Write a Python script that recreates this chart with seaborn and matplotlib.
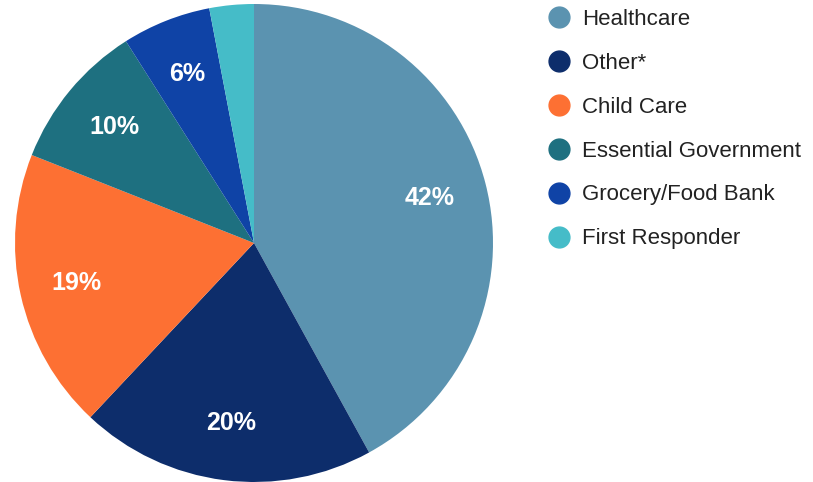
import matplotlib
matplotlib.use("Agg")
import matplotlib.pyplot as plt
import seaborn as sns
from matplotlib.lines import Line2D

categories = ["Healthcare", "Other*", "Child Care", "Essential Government",
              "Grocery/Food Bank", "First Responder"]
shares = [42, 20, 19, 10, 6, 3]
colors = ["#5b93b0", "#0d2d6b", "#fd7033", "#1e7080", "#0f43a6", "#45bcc8"]

sns.set_theme(style="white")
plt.rcParams["font.family"] = ["Liberation Sans", "DejaVu Sans"]

fig = plt.figure(figsize=(8.13, 4.82), dpi=100)
ax = fig.add_axes([15 / 813, 0.0, 478 / 813, 478 / 482])

wedges, texts, autotexts = ax.pie(
    shares, colors=colors, startangle=90, counterclock=False,
    autopct=lambda p: f"{p:.0f}%" if p >= 5 else "",
    pctdistance=0.76, radius=1.0,
    wedgeprops=dict(linewidth=0),
    textprops=dict(color="white", fontsize=18, fontweight="bold"),
)
ax.set_xlim(-1, 1)
ax.set_ylim(-1, 1)
ax.set_aspect("equal")

handles = [Line2D([0], [0], marker="o", linestyle="", markersize=15,
                  markerfacecolor=c, markeredgecolor=c) for c in colors]
fig.legend(handles, categories, loc="upper left",
           bbox_to_anchor=(539 / 813, 1 - 0 / 482), frameon=False,
           fontsize=16, labelspacing=1.03, handletextpad=0.55,
           handlelength=1.0, borderaxespad=0, labelcolor="#222222")

fig.savefig("out.png", dpi=100)
